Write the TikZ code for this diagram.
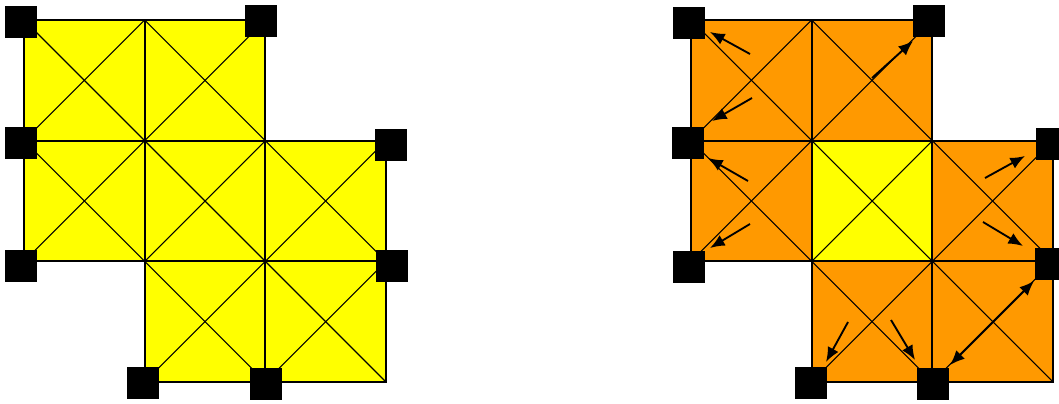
\documentclass[tikz,border=0pt]{standalone}
\usepackage{tikz}
\usetikzlibrary{positioning,arrows.meta,calc}
\usepackage{xcolor}
\definecolor{CellYellow}{HTML}{FFFF00}
\definecolor{CellOrange}{HTML}{FF9900}

\begin{document}
\begin{tikzpicture}[x=0.75pt, y=-0.75pt,
  pin/.style={fill=black, inner sep=0pt, minimum size=24pt},
  grid/.style={line width=1.7pt},
  diag/.style={line width=0.8pt},
  arr/.style={-{Latex[length=11pt,width=9pt]}, line width=1.4pt}]
\useasboundingbox (0,0) rectangle (1059,403);
% cells: left panel all yellow, right panel yellow only in the middle
\foreach \ox/\mid in {24/CellYellow, 691/CellOrange} {
  \foreach \c/\r in {0/0,1/0,0/1,1/1,2/1,1/2,2/2} {
    \pgfmathsetmacro{\xa}{\ox+120.67*\c}
    \pgfmathsetmacro{\ya}{20+120.67*\r}
    \ifnum\c\r=11
      \fill[CellYellow] (\xa,\ya) rectangle ++(120.67,120.67);
    \else
      \fill[\mid] (\xa,\ya) rectangle ++(120.67,120.67);
    \fi
    \draw[diag] (\xa,\ya) -- ++(120.67,120.67);
    \draw[diag] (\xa,\ya) ++(0,120.67) -- ++(120.67,-120.67);
    \draw[grid] (\xa,\ya) rectangle ++(120.67,120.67);
  }
}
% fixed points, left
\node[pin] (l1) at (21,22.5) {};
\node[pin] (l2) at (260.5,21) {};
\node[pin] (l3) at (20.5,142.5) {};
\node[pin] (l4) at (390.5,144.5) {};
\node[pin] (l5) at (21,266) {};
\node[pin] (l6) at (391.5,265.5) {};
\node[pin] (l7) at (142.5,382.5) {};
\node[pin] (l8) at (265.5,384) {};
% fixed points, right
\node[pin] (r1) at (688.5,23) {};
\node[pin] (r2) at (928.5,21) {};
\node[pin] (r3) at (688,143) {};
\node[pin] (r4) at (1051.5,144) {};
\node[pin] (r5) at (689,267) {};
\node[pin] (r6) at (1051,264) {};
\node[pin] (r7) at (810.5,383) {};
\node[pin] (r8) at (932.5,384) {};
% moves
\foreach \i/\tx/\ty/\hx/\hy in {1/750/54/710/32, 2/752/98/712/121, 3/872/78/913/41,
    4/748/181/708/158, 5/750/224/710/248, 6/985/178/1025/156, 7/983/222/1023/246,
    8/848/322/826/362, 9/891/320/915/360} {
  \coordinate (t\i) at (\tx,\ty);
  \coordinate (h\i) at (\hx,\hy);
  \draw[arr] (t\i) -- (h\i);
}
\coordinate (t10) at (950,365);
\coordinate (h10) at (1034,281);
\draw[arr, {Latex[length=11pt,width=9pt]}-{Latex[length=11pt,width=9pt]}] (t10) -- (h10);
\end{tikzpicture}
\end{document}
